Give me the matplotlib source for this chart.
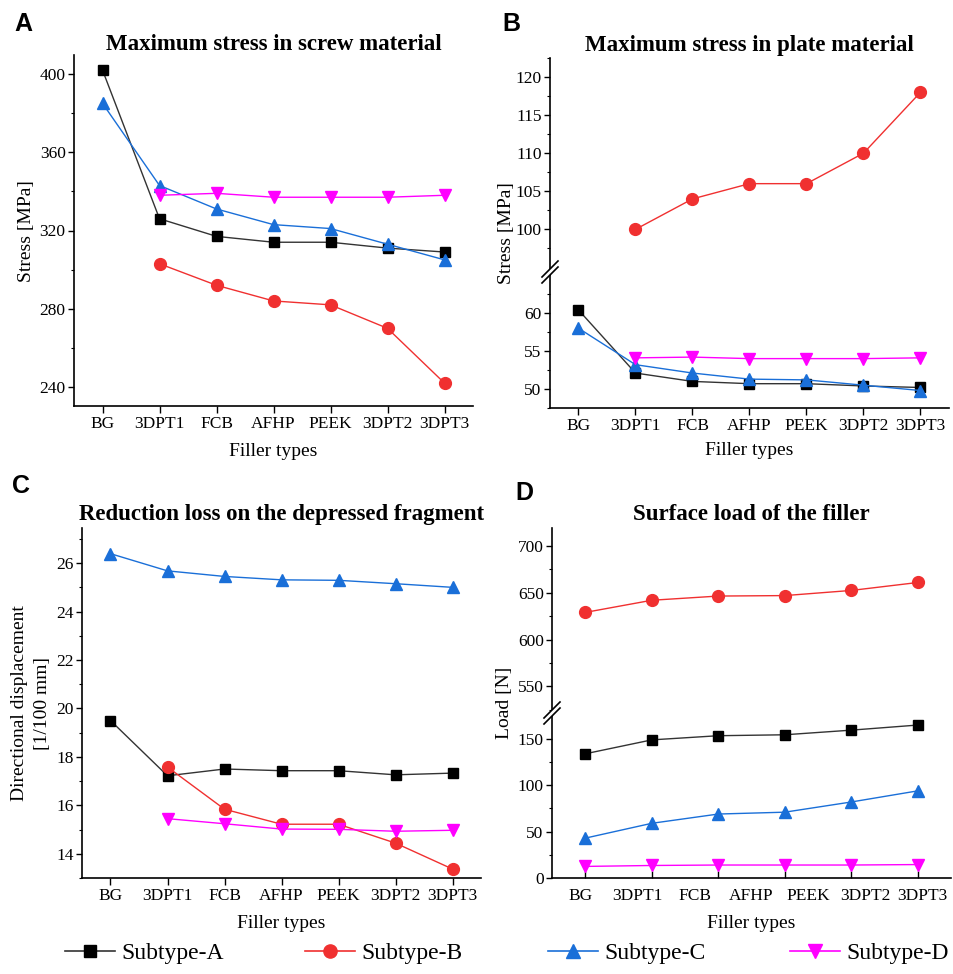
import numpy as np
import matplotlib.pyplot as plt
from matplotlib.lines import Line2D
from matplotlib.patches import Polygon

plt.rcParams["font.family"] = ["Liberation Serif", "DejaVu Serif"]

W, H = 954, 974
fillers = ["BG", "3DPT1", "FCB", "AFHP", "PEEK", "3DPT2", "3DPT3"]
nan = np.nan

# A: maximum stress in screw material [MPa]
screw_a = [402, 326, 317, 314, 314, 311, 309]
screw_b = [nan, 303, 292, 284, 282, 270, 242]
screw_c = [385, 343, 331, 323, 321, 313, 305]
screw_d = [nan, 338, 339, 337, 337, 337, 338]

# B: maximum stress in plate material [MPa]
plate_a = [60.4, 52.1, 51.0, 50.7, 50.7, 50.4, 50.2]
plate_b = [nan, 100, 104, 106, 106, 110, 118]
plate_c = [58.0, 53.2, 52.1, 51.3, 51.2, 50.5, 49.8]
plate_d = [nan, 54.1, 54.2, 54.0, 54.0, 54.0, 54.1]

# C: directional displacement [1/100 mm]
disp_a = [19.5, 17.22, 17.5, 17.43, 17.43, 17.26, 17.33]
disp_b = [nan, 17.58, 15.84, 15.22, 15.22, 14.44, 13.37]
disp_c = [26.39, 25.68, 25.45, 25.31, 25.29, 25.15, 25.0]
disp_d = [nan, 15.45, 15.24, 15.02, 15.01, 14.93, 14.97]

# D: surface load [N] -- the original panel only has six points per series
load_a = [134, 149, 153.5, 154.5, 159.5, 165]
load_b = [629, 642, 646.5, 647, 652.5, 661]
load_c = [43, 59, 69, 71, 82, 94]
load_d = [12.5, 13.5, 14, 14, 14, 14.5]

SERIES = ["Subtype-A", "Subtype-B", "Subtype-C", "Subtype-D"]
COLORS = ["#000000", "#f03030", "#1a6fd8", "#ff00ff"]
MARKERS = ["s", "o", "^", "v"]
MSIZE = [7.5, 8.5, 8.5, 8.5]
LINECOL = ["#333333", "#f03030", "#1a6fd8", "#ff00ff"]
TICK_FS, LAB_FS, TITLE_FS = 12.5, 14, 16.5


def px_axes(l, t, r, b):
    return fig.add_axes([l / W, 1 - b / H, (r - l) / W, (b - t) / H])


def style(ax, bottom=True, xin=False):
    for s in ["top", "right"]:
        ax.spines[s].set_visible(False)
    if not bottom:
        ax.spines["bottom"].set_visible(False)
        ax.tick_params(axis="x", which="both", bottom=False, labelbottom=False)
    ax.spines["left"].set_linewidth(1.2)
    ax.spines["bottom"].set_linewidth(1.2)
    ax.tick_params(axis="y", which="major", direction="out", length=4.5, width=1,
                   pad=1.5, labelsize=TICK_FS)
    ax.tick_params(axis="y", which="minor", direction="out", length=2.5, width=0.8)
    ax.tick_params(axis="x", which="major", direction="in" if xin else "out",
                   length=5, width=1, pad=2, labelsize=TICK_FS)


def draw(ax, series, x):
    for ys, c, lc, m, ms in zip(series, COLORS, LINECOL, MARKERS, MSIZE):
        ax.plot(x, ys, color=lc, lw=1.0, marker=m, ms=ms, mfc=c, mec=c, clip_on=False, zorder=3)


def ylab(xpx, ypx, text, **kw):
    fig.text(xpx / W, 1 - ypx / H, text, rotation=90, ha="center", va="center",
             fontsize=LAB_FS, **kw)


def break_mark(xpx, ypx):
    # white gap plus two slanted strokes across the left spine
    d, gap = 8, 3
    pts = [(xpx - d, ypx + gap + d), (xpx + d, ypx + gap - d),
           (xpx + d, ypx - gap - d), (xpx - d, ypx - gap + d)]
    fig.add_artist(Polygon([(px / W, 1 - py / H) for px, py in pts], closed=True,
                           transform=fig.transFigure, fc="white", ec="none", zorder=10))
    for off in (-gap, gap):
        fig.add_artist(Line2D([(xpx - d) / W, (xpx + d) / W],
                              [1 - (ypx + off + d) / H, 1 - (ypx + off - d) / H],
                              transform=fig.transFigure, color="black", lw=1.2, zorder=11))


fig = plt.figure(figsize=(W / 100, H / 100), dpi=100)
x7 = np.arange(len(fillers))

# ---- A ----
axA = px_axes(74, 55, 473, 406)
draw(axA, [screw_a, screw_b, screw_c, screw_d], x7)
axA.set_xlim(-0.5, 6.5)
axA.set_ylim(230.3, 409.7)
axA.set_yticks([240, 280, 320, 360, 400])
axA.set_yticks(np.arange(240, 401, 20), minor=True)
axA.set_xticks(x7, fillers)
style(axA)
axA.set_xlabel("Filler types", fontsize=LAB_FS, labelpad=8)
axA.set_title("Maximum stress in screw material", fontsize=TITLE_FS, fontweight="bold", pad=2)
ylab(27, 231, "Stress [MPa]")

# ---- B (broken axis) ----
b_top, b_brk, b_bot = 58, 272, 408
axBh = px_axes(550, b_top, 949, b_brk)
axBl = px_axes(550, b_brk, 949, b_bot)
for ax in (axBh, axBl):
    draw(ax, [plate_a, plate_b, plate_c, plate_d], x7)
    ax.set_xlim(-0.5, 6.5)
    for line in ax.lines:
        line.set_clip_on(True)
axBh.set_ylim(94.4, 122.5)
axBl.set_ylim(47.5, 65.4)
for line in axBl.lines:
    line.set_clip_on(False)
    if np.nanmin(line.get_ydata()) > 66:
        line.set_visible(False)
axBh.set_yticks([100, 105, 110, 115, 120])
axBh.set_yticks(np.arange(97.5, 122.6, 2.5), minor=True)
axBl.set_yticks([50, 55, 60])
axBl.set_yticks(np.arange(47.5, 65.1, 2.5), minor=True)
axBl.set_xticks(x7, fillers)
style(axBh, bottom=False)
style(axBl)
axBl.set_xlabel("Filler types", fontsize=LAB_FS, labelpad=6)
axBh.set_title("Maximum stress in plate material", fontsize=TITLE_FS, fontweight="bold", pad=5)
ylab(507, 233, "Stress [MPa]")
break_mark(550, b_brk)

# ---- C ----
axC = px_axes(82, 528, 481, 878)
draw(axC, [disp_a, disp_b, disp_c, disp_d], x7)
axC.set_xlim(-0.5, 6.5)
axC.set_ylim(13.0, 27.45)
axC.set_yticks(np.arange(14, 27, 2))
axC.set_yticks(np.arange(13, 27.1, 1), minor=True)
axC.set_xticks(x7, fillers)
style(axC)
axC.set_xlabel("Filler types", fontsize=LAB_FS, labelpad=8)
axC.set_title("Reduction loss on the depressed fragment", fontsize=TITLE_FS, fontweight="bold", pad=6)
ylab(31, 703, "Directional displacement\n[1/100 mm]", linespacing=1.4)

# ---- D (broken axis, six points; tick labels sit on a seven-slot grid) ----
d_top, d_brk, d_bot = 528, 713, 878
axDh = px_axes(552, d_top, 951, d_brk)
axDl = px_axes(552, d_brk, 951, d_bot)
x6 = np.arange(len(load_a))
for ax in (axDh, axDl):
    draw(ax, [load_a, load_b, load_c, load_d], x6)
    ax.set_xlim(-0.5, 5.5)
axDh.set_ylim(521.4, 719.3)
axDl.set_ylim(0, 178)
for line in axDl.lines:
    if max(line.get_ydata()) > 178:
        line.set_visible(False)
for line in axDh.lines:
    if max(line.get_ydata()) < 521:
        line.set_visible(False)
axDh.set_yticks([550, 600, 650, 700])
axDh.set_yticks(np.arange(525, 720, 25), minor=True)
axDl.set_yticks([0, 50, 100, 150])
axDl.set_yticks(np.arange(0, 178, 25), minor=True)
style(axDh, bottom=False)
style(axDl, xin=True)
axDl.set_xticks(x6, [""] * len(x6))
slot = 6 / len(fillers)
axDl.set_xticks(-0.5 + (np.arange(len(fillers)) + 0.5) * slot, fillers, minor=True)
axDl.tick_params(axis="x", which="minor", length=0, labelsize=TICK_FS, pad=7)
axDl.set_xlabel("Filler types", fontsize=LAB_FS, labelpad=8)
axDh.set_title("Surface load of the filler", fontsize=TITLE_FS, fontweight="bold", pad=6)
ylab(505, 703, "Load [N]")
break_mark(552, d_brk)

# panel letters
for lab, xp, yp in [("A", 14, 24), ("B", 502, 24), ("C", 12, 486), ("D", 515, 493)]:
    fig.text(xp / W, 1 - yp / H, lab, fontsize=18, fontweight="bold", family="Liberation Sans",
             ha="left", va="center")

# legend: one entry per slot along the bottom row
leg_x = [65, 305, 548, 790]
for name, c, lc, m, ms, xs in zip(SERIES, COLORS, LINECOL, MARKERS, MSIZE, leg_x):
    h = Line2D([], [], color=lc, lw=1.2, marker=m, ms=ms + 1, mfc=c, mec=c)
    fig.legend([h], [name], loc="center left", bbox_to_anchor=(xs / W, 1 - 953 / H),
               frameon=False, fontsize=17, handlelength=2.1, handletextpad=0.3,
               borderpad=0, borderaxespad=0)

fig.savefig("out.png", dpi=100)
